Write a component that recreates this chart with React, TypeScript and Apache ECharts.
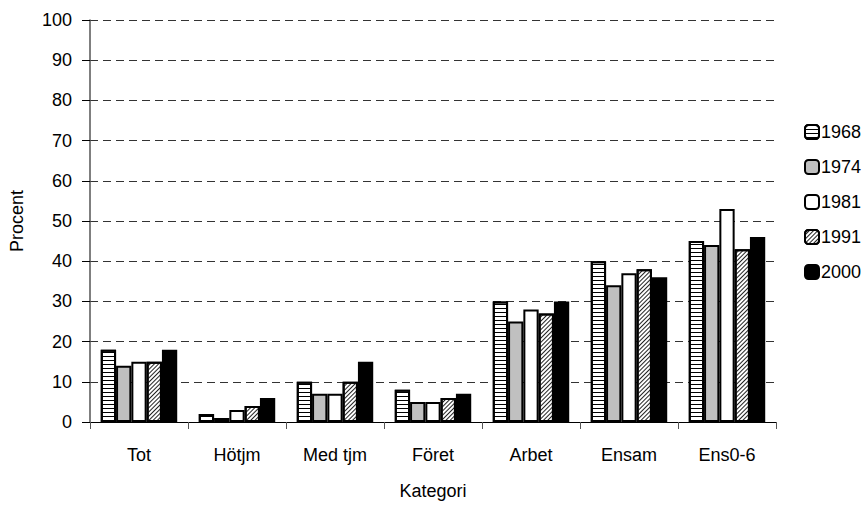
import React, { useEffect, useRef } from "react";
import * as echarts from "echarts";

const categories = ["Tot", "Hötjm", "Med tjm", "Föret", "Arbet", "Ensam", "Ens0-6"];
const years = ["1968", "1974", "1981", "1991", "2000"];
const v1968 = [18, 2, 10, 8, 30, 40, 45];
const v1974 = [14, 1, 7, 5, 25, 34, 44];
const v1981 = [15, 3, 7, 5, 28, 37, 53];
const v1991 = [15, 4, 10, 6, 27, 38, 43];
const v2000 = [18, 6, 15, 7, 30, 36, 46];
const yTicks = [0, 10, 20, 30, 40, 50, 60, 70, 80, 90, 100];

const FONT = "'Liberation Sans', Arial, sans-serif";

export default function App() {
  const ref = useRef<HTMLDivElement>(null);
  useEffect(() => {
    if (!ref.current) return;
    const chart = echarts.init(ref.current, undefined, { renderer: "svg" });
    const values = [v1968, v1974, v1981, v1991, v2000];
    const styles: any[] = [
      { color: "#ffffff", decal: { symbol: "rect", symbolSize: 1, dashArrayX: [1, 0], dashArrayY: [1, 3], color: "#000000", rotation: 0 } },
      { color: "#c0c0c0" },
      { color: "#ffffff" },
      { color: "#ffffff", decal: { symbol: "rect", symbolSize: 1, dashArrayX: [1, 0], dashArrayY: [1, 1.2], color: "#222222", rotation: -Math.PI / 4 } },
      { color: "#000000" },
    ];
    const series = years.map((y, i) => ({
      name: y,
      type: "bar",
      data: values[i],
      barGap: "0%",
      barCategoryGap: "22%",
      itemStyle: { ...styles[i], borderColor: "#000", borderWidth: 2 },
    }));
    chart.setOption({
      animation: false,
      aria: { enabled: false, decal: { show: false } },
      grid: { left: 88, right: 91, top: 20, bottom: 81 },
      legend: {
        orient: "vertical",
        left: 804,
        top: 123,
        padding: 0,
        itemWidth: 14,
        itemHeight: 14,
        itemGap: 17,
        textStyle: { fontFamily: FONT, fontSize: 18, color: "#000", padding: [0, 0, 0, -3] },
        data: years,
      },
      xAxis: {
        type: "category",
        data: categories,
        name: "Kategori",
        nameLocation: "middle",
        nameGap: 60,
        nameTextStyle: { fontFamily: FONT, fontSize: 18, color: "#000" },
        axisLine: { show: true, lineStyle: { color: "#000", width: 1 } },
        axisTick: { show: true, length: 7, lineStyle: { color: "#555" } },
        axisLabel: { fontFamily: FONT, fontSize: 18, color: "#000", margin: 24 },
      },
      yAxis: {
        type: "value",
        min: 0,
        max: 100,
        interval: 10,
        name: "Procent",
        nameLocation: "middle",
        nameGap: 64,
        nameTextStyle: { fontFamily: FONT, fontSize: 18, color: "#000" },
        axisLine: { show: true, lineStyle: { color: "#555", width: 1.5 } },
        axisTick: { show: true, length: 8, inside: false, lineStyle: { color: "#000" } },
        axisLabel: {
          fontFamily: FONT,
          fontSize: 18,
          color: "#000",
          margin: 18,
          formatter: (v: number) => (yTicks.includes(v) ? String(v) : ""),
        },
        splitLine: { show: true, lineStyle: { color: "#333", type: [8, 5], width: 1 } },
      },
      series,
    });
    return () => chart.dispose();
  }, []);
  return <div ref={ref} style={{ position: "absolute", left: 0, top: 0, width: 867, height: 505 }} />;
}
